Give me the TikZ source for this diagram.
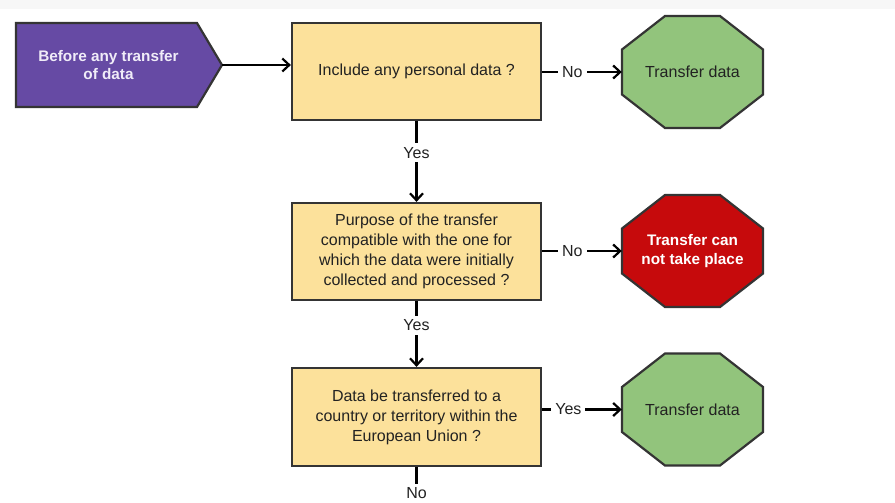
\documentclass[tikz,border=0pt]{standalone}
\usepackage{fontspec}
\setmainfont{Liberation Sans}
\usetikzlibrary{arrows.meta}
\definecolor{stripgray}{RGB}{247,247,247}
\definecolor{startpurple}{RGB}{102,74,164}
\definecolor{boxyellow}{RGB}{252,225,155}
\definecolor{okgreen}{RGB}{146,196,124}
\definecolor{stopred}{RGB}{198,10,12}
\definecolor{bordergray}{RGB}{52,52,52}
\definecolor{textdark}{RGB}{34,34,34}
\definecolor{lighttext}{RGB}{240,236,248}
\newcommand\octpath[3]{%
  \filldraw[octline,fill=#3] ({#1-27.5},{#2-56}) -- ({#1+27.5},{#2-56}) -- ({#1+70.5},{#2-22.5}) -- ({#1+70.5},{#2+22.5}) -- ({#1+27.5},{#2+56}) -- ({#1-27.5},{#2+56}) -- ({#1-70.5},{#2+22.5}) -- ({#1-70.5},{#2-22.5}) -- cycle;}
\begin{document}
\begin{tikzpicture}[x=1pt,y=-1pt,
  txt/.style={font=\fontsize{16}{20}\selectfont, text=textdark, align=center},
  qbox/.style={txt, rectangle, draw=bordergray, line width=2.2pt, fill=boxyellow, minimum width=249pt, minimum height=97pt, inner sep=0pt},
  octnode/.style={txt, rectangle, minimum width=141pt, minimum height=112pt, inner sep=0pt},
  octline/.style={draw=bordergray, line width=2.2pt, line join=miter},
  startnode/.style={font=\bfseries\fontsize{15.3}{18.5}\selectfont, text=lighttext, align=center, minimum width=185pt, minimum height=84pt, inner sep=0pt},
  conn/.style={line width=2.2pt, black, -{Straight Barb[length=7pt,width=13pt,line width=2.2pt]}},
  plainline/.style={line width=2.2pt, black},
  lbl/.style={txt, fill=white, inner xsep=4pt, inner ysep=4pt}
]
\useasboundingbox (0,0) rectangle (895,503);
\fill[white] (0,0) rectangle (895,503);
\fill[stripgray] (0,0) rectangle (895,9);

% start pentagon
\filldraw[octline, fill=startpurple] (16,23) -- (197,23) -- (222,65) -- (197,107) -- (16,107) -- cycle;
\node[startnode] (start) at (108.5,65) {Before any transfer\\of data};
\coordinate (starttip) at (222,65);

% decision boxes
\node[qbox] (q1) at (416.5,71.5) {Include any personal data ?};
\node[qbox] (q2) at (416.5,251.5) {Purpose of the transfer\\compatible with the one for\\which the data were initially\\collected and processed ?};
\node[qbox, minimum height=98pt] (q3) at (416.5,417) {Data be transferred to a\\country or territory within the\\European Union ?};

% octagons
\octpath{692.5}{72}{okgreen}
\node[octnode] (t1) at (692.5,72) {Transfer data};
\octpath{692.5}{251}{stopred}
\node[octnode, text=white, font=\bfseries\fontsize{15.3}{19.5}\selectfont] (stop) at (692.5,251) {Transfer can\\not take place};
\octpath{692.5}{409.5}{okgreen}
\node[octnode] (t3) at (692.5,409.5) {Transfer data};

\coordinate (bottomend) at (416.5,503);

% connectors
\draw[conn] (starttip) -- (q1.west |- starttip);
\draw[conn] (q1.east |- t1.west) -- node[lbl,pos=0.38]{No} (t1.west);
\draw[conn] (q1.south) -- node[lbl,pos=0.39]{Yes} (q2.north);
\draw[conn] (q2.east |- stop.west) -- node[lbl,pos=0.38]{No} (stop.west);
\draw[conn] (q2.south) -- node[lbl,pos=0.37]{Yes} (q3.north);
\draw[conn] (q3.east |- t3.west) -- node[lbl,pos=0.33]{Yes} (t3.west);
\draw[plainline] (q3.south) -- node[lbl,pos=0.73]{No} (bottomend);
\end{tikzpicture}
\end{document}
